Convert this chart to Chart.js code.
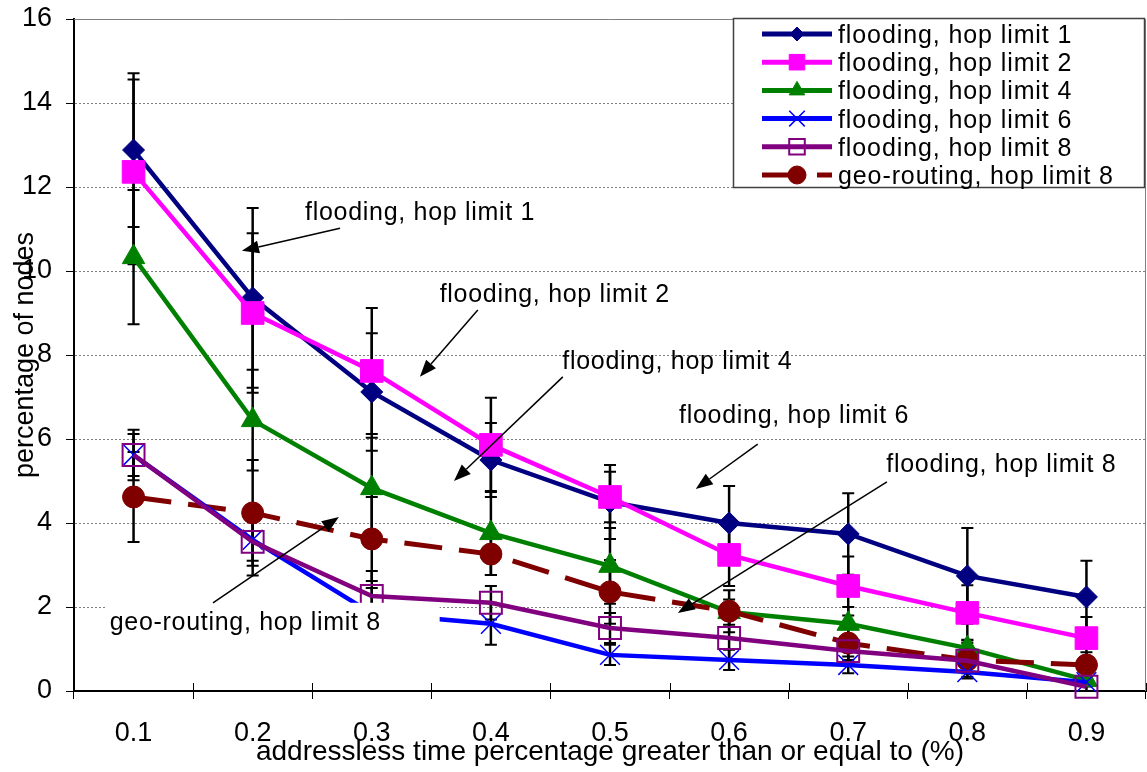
<!DOCTYPE html>
<html>
<head>
<meta charset="utf-8">
<script src="https://cdn.jsdelivr.net/npm/chart.js@4.4.1/dist/chart.umd.min.js"></script>
<style>
html,body{margin:0;padding:0;background:#fff;overflow:hidden}
#wrap{width:1147px;height:772px;position:relative}
canvas{display:block}
</style>
</head>
<body>
<div id="wrap"><canvas id="c" width="1147" height="772"></canvas></div>
<script>
// ---------------- data ----------------
const categories = ['0.1','0.2','0.3','0.4','0.5','0.6','0.7','0.8','0.9'];
const seriesNames = ['flooding, hop limit 1','flooding, hop limit 2','flooding, hop limit 4','flooding, hop limit 6','flooding, hop limit 8','geo-routing, hop limit 8'];
const hop1    = [12.88, 9.36, 7.12, 5.50, 4.50, 4.00, 3.74, 2.74, 2.24];
const hop1Err = [1.83, 2.14, 1.40, 0.88, 0.88, 0.88, 0.97, 1.14, 0.86];
const hop2    = [12.36, 9.00, 7.62, 5.86, 4.62, 3.24, 2.50, 1.86, 1.26];
const hop2Err = [2.20, 1.90, 1.50, 1.12, 0.60, 0.74, 0.70, 0.66, 0.50];
const hop4    = [10.33, 6.45, 4.83, 3.76, 2.98, 1.88, 1.60, 1.02, 0.26];
const hop4Err = [1.60, 1.20, 1.20, 1.00, 0.90, 0.30, 0.40, 0.20, 0.10];
const hop6    = [5.62, 3.60, 1.85, 1.60, 0.86, 0.74, 0.62, 0.45, 0.21];
const hop6Err = [0.50, 0.50, 0.60, 0.50, 0.24, 0.24, 0.20, 0.15, 0.10];
const hop8    = [5.62, 3.55, 2.26, 2.10, 1.50, 1.26, 0.95, 0.72, 0.10];
const hop8Err = [0.60, 0.80, 0.60, 0.40, 0.36, 0.50, 0.30, 0.30, 0.10];
const geo8    = [4.62, 4.24, 3.62, 3.26, 2.36, 1.90, 1.14, 0.74, 0.62];
const geo8Err = [1.07, 1.26, 1.00, 0.50, 0.76, 0.50, 0.40, 0.40, 0.30];
const yTickValues = [0, 2, 4, 6, 8, 10, 12, 14, 16];
const xTitle = 'addressless time percentage greater than or equal to (%)';
const yTitle = 'percentage of nodes';
const annotationTexts = ['flooding, hop limit 1','flooding, hop limit 2','flooding, hop limit 4','flooding, hop limit 6','flooding, hop limit 8','geo-routing, hop limit 8'];

// ---------------- layout / style (not data) ----------------
const FONT = "'Liberation Sans', Arial, Helvetica, sans-serif";
// annotation placement in axis units (category index, value)
const annotationPlacement = [
  {tx: 1.44, tv: 11.21, from: [1.733, 11.02], to: [0.91, 10.48]},
  {tx: 2.57, tv: 9.26,  from: [2.89, 9.07],  to: [2.404, 7.48]},
  {tx: 3.60, tv: 7.67,  from: [3.604, 7.48], to: [2.69, 5.00]},
  {tx: 4.58, tv: 6.38,  from: [5.24, 5.88],  to: [4.72, 4.81]},
  {tx: 6.32, tv: 5.21,  from: [6.325, 4.98], to: [4.57, 1.86]},
  {tx: -0.20, tv: 1.45, from: [0.667, 2.10], to: [1.724, 4.14], box: [-0.225, 2.10, 2.57, 1.12]}
];

const colors = ['#000080', '#FF00FF', '#008000', '#0000FF', '#800080', '#800000'];
const seriesData = [hop1, hop2, hop4, hop6, hop8, geo8];
const seriesErr = [hop1Err, hop2Err, hop4Err, hop6Err, hop8Err, geo8Err];
const styles = [
  {ps: 'rectRot',  r: 11,   lr: 7,  fill: true,  pbw: 1,   lw: 4.5, order: 6},
  {ps: 'rect',     r: 16,   lr: 11, fill: true,  pbw: 1,   lw: 4.5, order: 5},
  {ps: 'triangle', r: 13,   lr: 9,  fill: true,  pbw: 1,   lw: 4.5, order: 4},
  {ps: 'crossRot', r: 14,   lr: 11, fill: false, pbw: 1.5, lw: 4.5, order: 2},
  {ps: 'rect',     r: 15.5, lr: 11, fill: false, pbw: 2,   lw: 4.5, order: 1},
  {ps: 'circle',   r: 11,   lr: 9,  fill: true,  pbw: 1,   lw: 5,   order: 3, dash: [38, 17]}
];

const datasets = seriesNames.map((name, i) => {
  const s = styles[i];
  return {
    label: name,
    data: seriesData[i],
    errors: seriesErr[i],
    borderColor: colors[i],
    backgroundColor: colors[i],
    borderWidth: s.lw,
    borderDash: s.dash || [],
    pointStyle: s.ps,
    pointRadius: s.r,
    pointHoverRadius: s.r,
    pointBackgroundColor: s.fill ? colors[i] : 'rgba(0,0,0,0)',
    pointBorderColor: colors[i],
    pointBorderWidth: s.pbw,
    legendRadius: s.lr,
    tension: 0,
    fill: false,
    clip: false,
    order: s.order
  };
});

// ---------------- plugins ----------------
function drawMarker(ctx, ds, x, y, r) {
  ctx.save();
  ctx.setLineDash([]);
  ctx.fillStyle = ds.pointBackgroundColor;
  ctx.strokeStyle = ds.pointBorderColor;
  ctx.lineWidth = ds.pointBorderWidth;
  if (Chart.helpers && Chart.helpers.drawPoint) {
    Chart.helpers.drawPoint(ctx, {pointStyle: ds.pointStyle, radius: r, borderWidth: ds.pointBorderWidth, rotation: 0}, x, y);
  } else {
    ctx.beginPath(); ctx.arc(x, y, r, 0, Math.PI * 2); ctx.fill(); ctx.stroke();
  }
  ctx.restore();
}

const frameAndErrors = {
  id: 'frameAndErrors',
  beforeDatasetsDraw(chart) {
    const {ctx, chartArea: a, scales: {x, y}} = chart;
    ctx.save();
    // top and right frame
    ctx.strokeStyle = '#808080';
    ctx.lineWidth = 1;
    ctx.beginPath();
    ctx.moveTo(a.left, a.top + 0.5); ctx.lineTo(a.right - 0.5, a.top + 0.5); ctx.lineTo(a.right - 0.5, a.bottom);
    ctx.stroke();
    // x ticks crossing into plot
    ctx.strokeStyle = '#000';
    const step = (a.right - a.left) / categories.length;
    for (let i = 1; i <= categories.length; i++) {
      const px = Math.round(a.left + i * step) + 0.5;
      ctx.beginPath(); ctx.moveTo(px, a.bottom - 8); ctx.lineTo(px, a.bottom); ctx.stroke();
    }
    // error bars
    chart.data.datasets.forEach(ds => {
      ds.data.forEach((v, i) => {
        const e = ds.errors[i];
        const px = x.getPixelForValue(i);
        const yt = y.getPixelForValue(v + e);
        const yb = y.getPixelForValue(Math.max(0, v - e));
        ctx.strokeStyle = '#000';
        ctx.lineWidth = 2.5;
        ctx.beginPath(); ctx.moveTo(px, yt); ctx.lineTo(px, yb); ctx.stroke();
        ctx.lineWidth = 2;
        ctx.beginPath();
        ctx.moveTo(px - 6, yt); ctx.lineTo(px + 6, yt);
        ctx.moveTo(px - 6, yb); ctx.lineTo(px + 6, yb);
        ctx.stroke();
      });
    });
    ctx.restore();
  }
};

function arrow(ctx, x1, y1, x2, y2) {
  const ang = Math.atan2(y2 - y1, x2 - x1);
  const L = 17, W = 6.5;
  const bx = x2 - L * Math.cos(ang), by = y2 - L * Math.sin(ang);
  ctx.beginPath(); ctx.moveTo(x1, y1); ctx.lineTo(bx, by); ctx.stroke();
  ctx.beginPath();
  ctx.moveTo(x2, y2);
  ctx.lineTo(bx + W * Math.sin(ang), by - W * Math.cos(ang));
  ctx.lineTo(bx - W * Math.sin(ang), by + W * Math.cos(ang));
  ctx.closePath(); ctx.fill();
}

const annotations = {
  id: 'annotations',
  afterDatasetsDraw(chart) {
    const {ctx, scales: {x, y}} = chart;
    const step = x.getPixelForValue(1) - x.getPixelForValue(0);
    const px = t => x.getPixelForValue(0) + t * step;
    ctx.save();
    ctx.font = '25px ' + FONT;
    if ('letterSpacing' in ctx) ctx.letterSpacing = '0.7px';
    ctx.textBaseline = 'alphabetic';
    ctx.textAlign = 'left';
    annotationPlacement.forEach((p, i) => {
      if (p.box) {
        ctx.fillStyle = '#fff';
        const bx1 = px(p.box[0]), by1 = y.getPixelForValue(p.box[1]);
        const bx2 = px(p.box[2]), by2 = y.getPixelForValue(p.box[3]);
        ctx.fillRect(bx1, by1, bx2 - bx1, by2 - by1);
      }
      ctx.fillStyle = '#000';
      ctx.fillText(annotationTexts[i], px(p.tx), y.getPixelForValue(p.tv));
      ctx.strokeStyle = '#000';
      ctx.lineWidth = 1.5;
      arrow(ctx, px(p.from[0]), y.getPixelForValue(p.from[1]), px(p.to[0]), y.getPixelForValue(p.to[1]));
    });
    ctx.restore();
  }
};

const customLegend = {
  id: 'customLegend',
  afterDraw(chart) {
    const {ctx, chartArea: a} = chart;
    const L = {left: a.right - 413, top: a.top - 1, right: a.right - 1, bottom: a.top + 169};
    ctx.save();
    ctx.fillStyle = '#fff';
    ctx.fillRect(L.left, L.top, L.right - L.left, L.bottom - L.top);
    ctx.strokeStyle = '#404040';
    ctx.lineWidth = 1.5;
    ctx.strokeRect(L.left + 0.5, L.top + 0.5, L.right - L.left - 1, L.bottom - L.top - 1);
    const x1 = L.left + 29, x2 = L.left + 99, tx = L.left + 105;
    chart.data.datasets.forEach((ds, i) => {
      const base = L.top + 25 + i * 28.2;
      const cy = base - 9;
      ctx.save();
      ctx.strokeStyle = ds.borderColor;
      ctx.lineWidth = 5;
      ctx.setLineDash(ds.borderDash && ds.borderDash.length ? [38, 17] : []);
      ctx.beginPath(); ctx.moveTo(x1, cy); ctx.lineTo(x2, cy); ctx.stroke();
      ctx.restore();
      drawMarker(ctx, ds, (x1 + x2) / 2, cy, ds.legendRadius);
      ctx.fillStyle = '#000';
      ctx.font = '25px ' + FONT;
      if ('letterSpacing' in ctx) ctx.letterSpacing = '0.9px';
      ctx.textBaseline = 'alphabetic';
      ctx.textAlign = 'left';
      ctx.fillText(ds.label, tx, base);
    });
    ctx.restore();
  }
};

// ---------------- chart ----------------
new Chart(document.getElementById('c'), {
  type: 'line',
  data: {labels: categories, datasets: datasets},
  plugins: [frameAndErrors, annotations, customLegend],
  options: {
    responsive: false,
    animation: false,
    devicePixelRatio: 1,
    layout: {autoPadding: false, padding: {top: 19, right: 1, left: 0, bottom: 0}},
    plugins: {legend: {display: false}, tooltip: {enabled: false}},
    scales: {
      x: {
        type: 'category',
        offset: true,
        afterFit(s) { s.height = 81; s.paddingLeft = 0; s.paddingRight = 0; },
        grid: {offset: true, drawOnChartArea: false, drawTicks: true, tickLength: 8, tickColor: '#000', color: '#000'},
        border: {display: true, color: '#000', width: 2},
        ticks: {color: '#000', font: {family: FONT, size: 27}, padding: 18, maxRotation: 0, autoSkip: false},
        title: {display: true, text: xTitle, color: '#000', font: {family: FONT, size: 28}, padding: {top: 0, bottom: 3}}
      },
      y: {
        min: 0, max: 16,
        afterFit(s) { s.width = 74; s.paddingTop = 0; s.paddingBottom = 0; },
        afterBuildTicks(s) { s.ticks = yTickValues.map(v => ({value: v})); },
        grid: {color: '#808080', lineWidth: 1, drawTicks: true, tickLength: 8, tickColor: '#000'},
        border: {display: true, color: '#000', width: 2, dash: [2, 2]},
        ticks: {color: '#000', font: {family: FONT, size: 27}, padding: 14},
        title: {display: true, text: yTitle, color: '#000', font: {family: FONT, size: 27}, padding: {top: 9, bottom: 0}}
      }
    }
  }
});
</script>
</body>
</html>
